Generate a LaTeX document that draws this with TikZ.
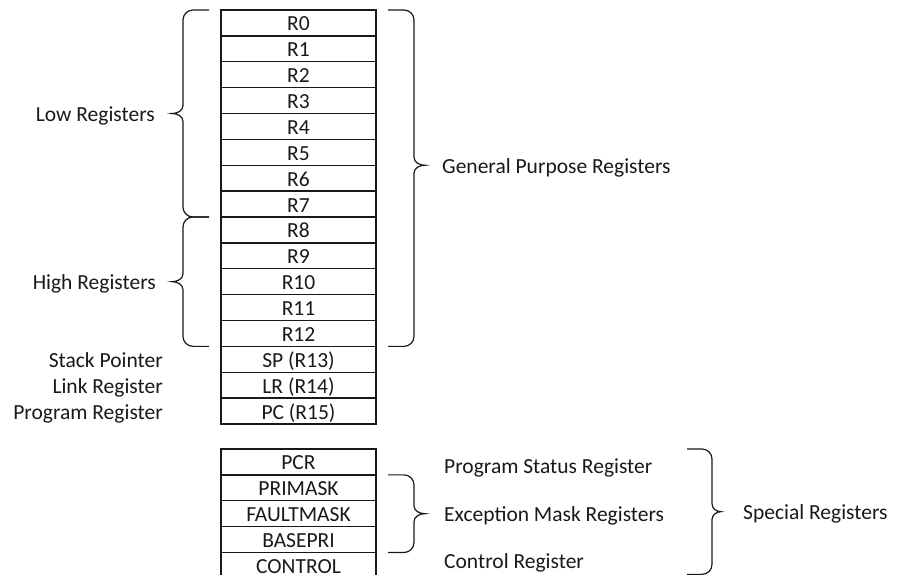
\documentclass[tikz,border=0pt]{standalone}
\usepackage{fontspec}
\setmainfont{Carlito}
\usepackage{tikz}
\usetikzlibrary{positioning, calc}
\definecolor{InkGray}{RGB}{25,25,25}

\begin{document}
\begin{tikzpicture}[
    node distance=0pt,
    reg/.style={
        draw=InkGray,
        line width=1.3pt,
        minimum width=155pt,
        minimum height=25.875pt,
        outer sep=0pt,
        inner sep=0pt,
        text height=18pt,
        text depth=2pt,
        font=\fontsize{21.5pt}{25pt}\selectfont,
        text=InkGray
    },
    lbl/.style={
        inner sep=0pt,
        text height=18pt,
        text depth=2pt,
        font=\fontsize{21.5pt}{25pt}\selectfont,
        text=InkGray
    },
    brc/.style={draw=InkGray, line width=1.2pt}
]
\useasboundingbox (0,0) rectangle (900pt,-575pt);

% CORE REGISTERS
\node[reg] (r0) at (298.5pt,-22.94pt) {R0};
\node[reg, below=of r0] (r1) {R1};
\node[reg, below=of r1] (r2) {R2};
\node[reg, below=of r2] (r3) {R3};
\node[reg, below=of r3] (r4) {R4};
\node[reg, below=of r4] (r5) {R5};
\node[reg, below=of r5] (r6) {R6};
\node[reg, below=of r6] (r7) {R7};
\node[reg, below=of r7] (r8) {R8};
\node[reg, below=of r8] (r9) {R9};
\node[reg, below=of r9] (r10) {R10};
\node[reg, below=of r10] (r11) {R11};
\node[reg, below=of r11] (r12) {R12};
\node[reg, below=of r12] (sp) {SP (R13)};
\node[reg, below=of sp] (lr) {LR (R14)};
\node[reg, below=of lr] (pc) {PC (R15)};

% SPECIAL REGISTERS
\node[reg, below=25pt of pc] (pcr) {PCR};
\node[reg, below=of pcr] (primask) {PRIMASK};
\node[reg, below=of primask] (faultmask) {FAULTMASK};
\node[reg, below=of faultmask] (basepri) {BASEPRI};
\node[reg, below=of basepri] (control) {CONTROL};

% LOW / HIGH BRACES
\coordinate (lowT) at ([xshift=-12pt]r0.north west);
\coordinate (lowB) at ([xshift=-12pt]r7.south west);
\coordinate (lowM) at ($(lowT)!0.5!(lowB)$);
\coordinate (lowTip) at ([xshift=-37pt]lowM);
\draw[brc] (lowT) -- ([xshift=-16pt]lowT)
    to[out=180,in=90] ([xshift=-26pt,yshift=-10pt]lowT)
    -- ([xshift=-26pt,yshift=8pt]lowM)
    to[out=-90,in=0] (lowTip)
    to[out=0,in=90] ([xshift=-26pt,yshift=-8pt]lowM)
    -- ([xshift=-26pt,yshift=10pt]lowB)
    to[out=-90,in=180] ([xshift=-16pt]lowB) -- (lowB);

\coordinate (highT) at ([xshift=-12pt]r8.north west);
\coordinate (highB) at ([xshift=-12pt]r12.south west);
\coordinate (highM) at ($(highT)!0.5!(highB)$);
\coordinate (highTip) at ([xshift=-37pt]highM);
\draw[brc] (highT) -- ([xshift=-16pt]highT)
    to[out=180,in=90] ([xshift=-26pt,yshift=-10pt]highT)
    -- ([xshift=-26pt,yshift=8pt]highM)
    to[out=-90,in=0] (highTip)
    to[out=0,in=90] ([xshift=-26pt,yshift=-8pt]highM)
    -- ([xshift=-26pt,yshift=10pt]highB)
    to[out=-90,in=180] ([xshift=-16pt]highB) -- (highB);

\node[lbl, left=17pt of lowTip] (lowlbl) {Low Registers};
\node[lbl, left=16pt of highTip] (highlbl) {High Registers};

\node[lbl, left=58pt of sp] (splbl) {Stack Pointer};
\node[lbl, left=58pt of lr] (lrlbl) {Link Register};
\node[lbl, left=58pt of pc] (pclbl) {Program Register};

% GENERAL PURPOSE BRACE
\coordinate (gpT) at ([xshift=12pt]r0.north east);
\coordinate (gpB) at ([xshift=12pt]r12.south east);
\coordinate (gpM) at ([xshift=12pt]r5.south east);
\coordinate (gpTip) at ([xshift=37pt]gpM);
\draw[brc] (gpT) -- ([xshift=16pt]gpT)
    to[out=0,in=90] ([xshift=26pt,yshift=-10pt]gpT)
    -- ([xshift=26pt,yshift=8pt]gpM)
    to[out=-90,in=180] (gpTip)
    to[out=180,in=90] ([xshift=26pt,yshift=-8pt]gpM)
    -- ([xshift=26pt,yshift=10pt]gpB)
    to[out=-90,in=0] ([xshift=16pt]gpB) -- (gpB);

\node[lbl, right=17pt of gpTip] (gplbl) {General Purpose Registers};

% EXCEPTION MASK BRACE
\coordinate (exT) at ([xshift=12pt]primask.north east);
\coordinate (exB) at ([xshift=12pt]basepri.south east);
\coordinate (exM) at ($(exT)!0.5!(exB)$);
\coordinate (exTip) at ([xshift=37pt]exM);
\draw[brc] (exT) -- ([xshift=16pt]exT)
    to[out=0,in=90] ([xshift=26pt,yshift=-10pt]exT)
    -- ([xshift=26pt,yshift=8pt]exM)
    to[out=-90,in=180] (exTip)
    to[out=180,in=90] ([xshift=26pt,yshift=-8pt]exM)
    -- ([xshift=26pt,yshift=10pt]exB)
    to[out=-90,in=0] ([xshift=16pt]exB) -- (exB);

\node[lbl, right=19pt of exTip] (exlbl) {Exception Mask Registers};
\node[lbl, anchor=west] (pslbl) at ([yshift=48pt]exlbl.west) {Program Status Register};
\node[lbl, anchor=west] (ctlbl) at ([yshift=-47pt]exlbl.west) {Control Register};

% SPECIAL BRACE
\coordinate (spT) at ([xshift=311pt]pcr.north east);
\coordinate (spB) at ([xshift=311pt,yshift=4pt]control.south east);
\coordinate (spM) at ($(spT)!0.5!(spB)$);
\coordinate (spTip) at ([xshift=34pt]spM);
\draw[brc] (spT) -- ([xshift=15pt]spT)
    to[out=0,in=90] ([xshift=25pt,yshift=-10pt]spT)
    -- ([xshift=25pt,yshift=8pt]spM)
    to[out=-90,in=180] (spTip)
    to[out=180,in=90] ([xshift=25pt,yshift=-8pt]spM)
    -- ([xshift=25pt,yshift=10pt]spB)
    to[out=-90,in=0] ([xshift=15pt]spB) -- (spB);

\node[lbl, right=22pt of spTip] (splbl2) {Special Registers};

\end{tikzpicture}
\end{document}
